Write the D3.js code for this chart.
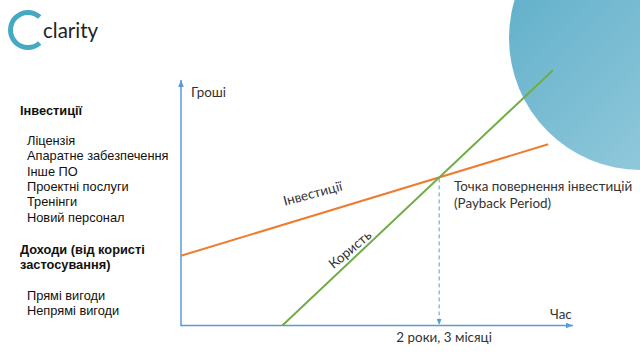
<!DOCTYPE html>
<html><head><meta charset="utf-8">
<script src="https://cdn.jsdelivr.net/npm/d3@7"></script>
<style>html,body{margin:0;padding:0;background:#fff;overflow:hidden}</style>
</head><body>
<svg id="c" width="640" height="356"></svg>
<script>
// ---- data ----
const investMonths = [0, 38.4];
const investValues = [28.4, 73.8];
const benefitMonths = [10.6, 38.9];
const benefitValues = [0, 104];
const paybackMonth = 27;
const paybackLabel = "2 роки, 3 місяці";
const axisLabels = {x: "Час", y: "Гроші"};
const seriesLabels = ["Інвестиції", "Користь"];
const paybackText = ["Точка повернення інвестицій", "(Payback Period)"];
const sideHeadings = ["Інвестиції", "Доходи (від користі", "застосування)"];
const investItems = ["Ліцензія", "Апаратне забезпечення", "Інше ПО", "Проектні послуги", "Тренінги", "Новий персонал"];
const incomeItems = ["Прямі вигоди", "Непрямі вигоди"];

const svg = d3.select("#c");
const defs = svg.append("defs");

// decorative circle
const g1 = defs.append("linearGradient").attr("id","cg").attr("x1","0").attr("y1","0").attr("x2","1").attr("y2","1");
g1.append("stop").attr("offset","0").attr("stop-color","#56aac6");
g1.append("stop").attr("offset","1").attr("stop-color","#a3d2e2");
svg.append("circle").attr("cx",641).attr("cy",38).attr("r",132).attr("fill","url(#cg)");

// logo
const lg = svg.append("g").attr("transform","translate(28,30)");
lg.append("path").attr("d", d3.arc().innerRadius(15).outerRadius(20)
  .startAngle(138*Math.PI/180).endAngle(402*Math.PI/180)()).attr("fill","#45a9c3");
svg.append("text").attr("x",43).attr("y",37.5).text("clarity")
  .attr("font-family","Lato").attr("font-size",20.5).attr("fill","#222");

// scales
const x = d3.scaleLinear().domain([0, 41]).range([181, 573]);
const y = d3.scaleLinear().domain([0, 100]).range([325.5, 80]);

// arrow markers
const mk = (id, size) => defs.append("marker").attr("id",id).attr("viewBox","0 0 10 10")
  .attr("refX",10).attr("refY",5).attr("markerWidth",size).attr("markerHeight",size)
  .attr("orient","auto").attr("markerUnits","userSpaceOnUse")
  .append("path").attr("d","M0,1L10,5L0,9Z").attr("fill","#5b9bd5");
mk("ar", 7); mk("ar2", 6);

const axisColor = "#5b9bd5";
svg.append("line").attr("x1",x(0)).attr("y1",y(0)).attr("x2",x(41)).attr("y2",y(0))
  .attr("stroke",axisColor).attr("stroke-width",1.5).attr("marker-end","url(#ar)");
svg.append("line").attr("x1",x(0)).attr("y1",y(0)+0.7).attr("x2",x(0)).attr("y2",y(100))
  .attr("stroke",axisColor).attr("stroke-width",1.5).attr("marker-end","url(#ar)");

const line = d3.line().x(d=>x(d[0])).y(d=>y(d[1]));
const inv = investMonths.map((m,i)=>[m, investValues[i]]);
const ben = benefitMonths.map((m,i)=>[m, benefitValues[i]]);
svg.append("path").attr("d",line(inv)).attr("fill","none").attr("stroke","#ed7d31").attr("stroke-width",2);
svg.append("path").attr("d",line(ben)).attr("fill","none").attr("stroke","#70ad47").attr("stroke-width",2);

// payback
const interp = (pts, m) => pts[0][1] + (pts[1][1]-pts[0][1])*(m-pts[0][0])/(pts[1][0]-pts[0][0]);
const pv = interp(inv, paybackMonth);
svg.append("line").attr("x1",x(paybackMonth)).attr("y1",y(pv)+1).attr("x2",x(paybackMonth)).attr("y2",y(0)-0.5)
  .attr("stroke",axisColor).attr("stroke-width",1).attr("stroke-dasharray","4,3").attr("marker-end","url(#ar2)");

const rf = "Lato";
const tc = "#333";
const fs = 13.4;
svg.append("text").attr("x",191).attr("y",97).text(axisLabels.y).attr("font-family",rf).attr("font-size",fs).attr("fill",tc);
svg.append("text").attr("x",550).attr("y",319).text(axisLabels.x).attr("font-family",rf).attr("font-size",fs).attr("fill",tc);
svg.append("text").attr("x",x(paybackMonth)+5).attr("y",342).attr("text-anchor","middle").text(paybackLabel)
  .attr("font-family",rf).attr("font-size",fs).attr("fill",tc);
paybackText.forEach((t,i)=>svg.append("text").attr("x",454).attr("y",191+i*17).text(t)
  .attr("font-family",rf).attr("font-size",fs).attr("fill",tc));

svg.append("text").attr("transform","translate(314,198) rotate(-15)").attr("text-anchor","middle")
  .text(seriesLabels[0]).attr("font-family",rf).attr("font-size",fs).attr("fill",tc);
svg.append("text").attr("transform","translate(353,253) rotate(-40)").attr("text-anchor","middle")
  .text(seriesLabels[1]).attr("font-family",rf).attr("font-size",fs).attr("fill",tc);

// side list
const lf = "Liberation Sans";
const sfs = 12.8;
svg.append("text").attr("x",20).attr("y",114.5).text(sideHeadings[0]).attr("font-family",lf).attr("font-weight","bold").attr("font-size",sfs).attr("fill","#111");
investItems.forEach((t,i)=>svg.append("text").attr("x",27).attr("y",145+i*15.3).text(t)
  .attr("font-family",lf).attr("font-size",sfs).attr("fill","#111"));
svg.append("text").attr("x",20).attr("y",253.5).text(sideHeadings[1]).attr("font-family",lf).attr("font-weight","bold").attr("font-size",sfs).attr("fill","#111");
svg.append("text").attr("x",20).attr("y",268.5).text(sideHeadings[2]).attr("font-family",lf).attr("font-weight","bold").attr("font-size",sfs).attr("fill","#111");
incomeItems.forEach((t,i)=>svg.append("text").attr("x",27).attr("y",300+i*15).text(t)
  .attr("font-family",lf).attr("font-size",sfs).attr("fill","#111"));
</script>
</body></html>
